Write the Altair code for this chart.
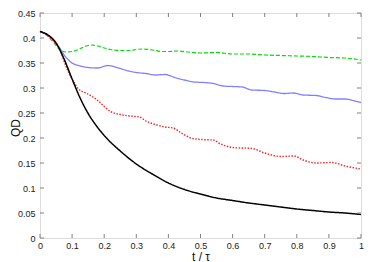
import altair as alt
import pandas as pd

# ---- data ----
t_black = [0, 0.025, 0.05, 0.075, 0.1, 0.125, 0.15, 0.175, 0.2, 0.25, 0.3, 0.35, 0.4, 0.45,
           0.5, 0.55, 0.6, 0.65, 0.7, 0.75, 0.8, 0.85, 0.9, 0.95, 1.0]
qd_black = [0.413, 0.406, 0.390, 0.358, 0.318, 0.280, 0.249, 0.225, 0.205, 0.174, 0.148, 0.128,
            0.110, 0.097, 0.088, 0.080, 0.075, 0.070, 0.066, 0.062, 0.058, 0.055, 0.052, 0.050, 0.047]

t_green = [0, 0.02, 0.04, 0.06, 0.08, 0.1, 0.12, 0.14, 0.16, 0.18, 0.2, 0.22, 0.25, 0.28, 0.3,
           0.32, 0.35, 0.38, 0.4, 0.43, 0.46, 0.5, 0.55, 0.6, 0.65, 0.7, 0.75, 0.8, 0.85, 0.9,
           0.95, 1.0]
qd_green = [0.413, 0.406, 0.393, 0.378, 0.372, 0.373, 0.377, 0.383, 0.386, 0.384, 0.380, 0.377,
            0.375, 0.375, 0.377, 0.378, 0.376, 0.373, 0.373, 0.374, 0.372, 0.370, 0.371, 0.368,
            0.368, 0.366, 0.365, 0.364, 0.363, 0.361, 0.360, 0.356]

t_blue = [0, 0.02, 0.04, 0.06, 0.08, 0.1, 0.12, 0.15, 0.18, 0.21, 0.24, 0.27, 0.3, 0.33, 0.36,
          0.39, 0.42, 0.45, 0.48, 0.51, 0.54, 0.57, 0.6, 0.63, 0.66, 0.7, 0.73, 0.76, 0.79, 0.82,
          0.86, 0.89, 0.92, 0.95, 0.98, 1.0]
qd_blue = [0.413, 0.407, 0.396, 0.381, 0.362, 0.350, 0.345, 0.341, 0.340, 0.345, 0.341, 0.335,
           0.331, 0.329, 0.326, 0.327, 0.321, 0.316, 0.312, 0.311, 0.309, 0.304, 0.303, 0.302,
           0.296, 0.295, 0.292, 0.289, 0.290, 0.286, 0.285, 0.281, 0.278, 0.278, 0.274, 0.271]

t_red = [0, 0.02, 0.04, 0.06, 0.08, 0.1, 0.12, 0.14, 0.16, 0.18, 0.2, 0.22, 0.25, 0.28, 0.31,
         0.33, 0.36, 0.39, 0.415, 0.44, 0.47, 0.5, 0.54, 0.56, 0.6, 0.66, 0.7, 0.75, 0.79, 0.82,
         0.86, 0.91, 0.95, 1.0]
qd_red = [0.413, 0.407, 0.396, 0.380, 0.345, 0.318, 0.298, 0.291, 0.284, 0.275, 0.263, 0.253,
          0.247, 0.244, 0.242, 0.234, 0.227, 0.222, 0.220, 0.210, 0.200, 0.197, 0.196, 0.189,
          0.181, 0.179, 0.170, 0.163, 0.164, 0.156, 0.150, 0.151, 0.144, 0.138]

x_ticks = [0, 0.1, 0.2, 0.3, 0.4, 0.5, 0.6, 0.7, 0.8, 0.9, 1.0]
y_ticks = [0, 0.05, 0.1, 0.15, 0.2, 0.25, 0.3, 0.35, 0.4, 0.45]

series_names = ["green", "blue", "red", "black"]
series_colors = ["#00dd00", "#8080ff", "#ff2222", "#000000"]
series_dash = [[4, 2], [1, 0], [1.5, 1.5], [1, 0]]
series_width = [1.2, 1.5, 1.2, 1.4]

rows = []
for name, ts, qs in [("green", t_green, qd_green), ("blue", t_blue, qd_blue),
                     ("red", t_red, qd_red), ("black", t_black, qd_black)]:
    for i, (t, q) in enumerate(zip(ts, qs)):
        rows.append({"series": name, "t": t, "QD": q, "i": i})
df = pd.DataFrame(rows)

W, H = 321, 225
FONT = "Liberation Sans"
GRAY = "#808080"

xs = alt.Scale(domain=[0, 1], nice=False)
ys = alt.Scale(domain=[0, 0.45], nice=False)

x_axis = alt.Axis(values=x_ticks, format=".1~f", title="t / τ", grid=False,
                  domain=False, ticks=False, labelPadding=3, labelFontSize=9,
                  labelFont=FONT, labelColor="#222", labelOverlap=False,
                  labelFlush=False,
                  titleFont=FONT, titleFontSize=12, titleFontWeight="normal",
                  titleColor="#111", titleBaseline="alphabetic", titleY=22)
y_axis = alt.Axis(values=y_ticks, format=".2~f", title="QD", grid=False,
                  domain=False, ticks=False, labelPadding=5, labelFontSize=9,
                  labelFont=FONT, labelColor="#222", labelOverlap=False,
                  labelFlush=False,
                  titleFont=FONT, titleFontSize=12, titleFontWeight="normal",
                  titleColor="#111", titleBaseline="alphabetic", titleX=-21,
                  titleY=H / 2 + 2)

lines = alt.Chart(df).mark_line(interpolate="monotone").encode(
    x=alt.X("t:Q", scale=xs, axis=x_axis),
    y=alt.Y("QD:Q", scale=ys, axis=y_axis),
    color=alt.Color("series:N", scale=alt.Scale(domain=series_names, range=series_colors),
                    legend=None),
    strokeDash=alt.StrokeDash("series:N",
                              scale=alt.Scale(domain=series_names, range=series_dash),
                              legend=None),
    strokeWidth=alt.StrokeWidth("series:N",
                                scale=alt.Scale(domain=series_names, range=series_width),
                                legend=None),
    order="i:Q",
    detail="series:N",
)

xt = pd.DataFrame({"v": x_ticks})
yt = pd.DataFrame({"v": y_ticks})
tick_style = dict(color=GRAY, strokeWidth=1)

xb = alt.Chart(xt).mark_rule(**tick_style).encode(
    x=alt.X("v:Q", scale=xs, axis=x_axis), y=alt.value(H), y2=alt.value(H - 4))
xtop = alt.Chart(xt).mark_rule(**tick_style).encode(
    x=alt.X("v:Q", scale=xs, axis=x_axis), y=alt.value(0), y2=alt.value(4))
yl = alt.Chart(yt).mark_rule(**tick_style).encode(
    y=alt.Y("v:Q", scale=ys, axis=y_axis), x=alt.value(0), x2=alt.value(4))
yr = alt.Chart(yt).mark_rule(**tick_style).encode(
    y=alt.Y("v:Q", scale=ys, axis=y_axis), x=alt.value(W), x2=alt.value(W - 4))

chart = alt.layer(lines, xb, xtop, yl, yr).properties(
    width=W, height=H,
    autosize=alt.AutoSizeParams(type="none"),
    padding={"left": 32, "top": 5, "right": 5, "bottom": 24},
).configure_view(stroke=GRAY, strokeWidth=1.5).configure(background="white")

chart.save("out.html", embed_options={"renderer": "svg", "actions": False})
